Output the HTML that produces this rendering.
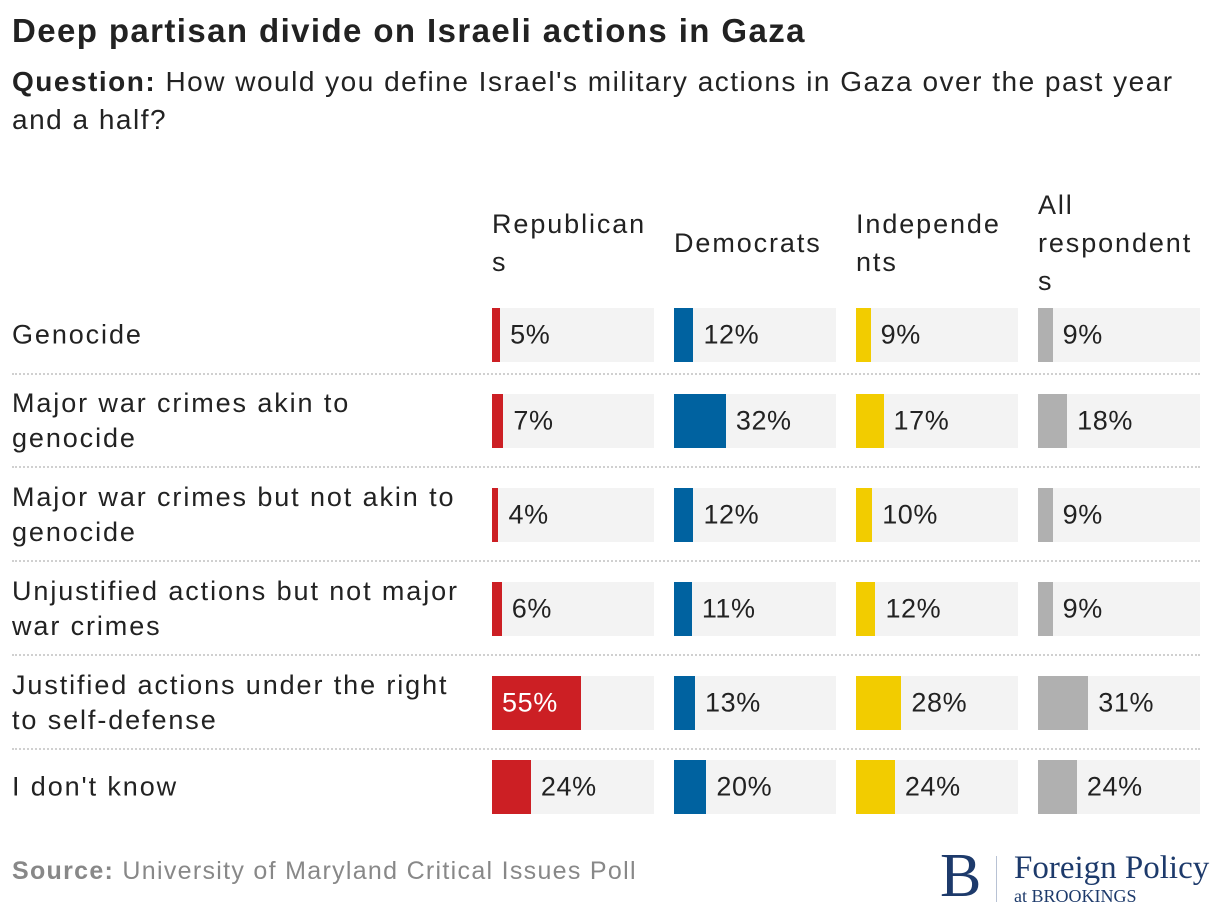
<!DOCTYPE html>
<html><head><meta charset="utf-8">
<style>
body{margin:0;background:#fff;font-family:"Liberation Sans",sans-serif;color:#222;}
#root{position:relative;width:1220px;height:916px;overflow:hidden;}
.abs{position:absolute;}
.t{font-size:27px;line-height:35px;color:#222;letter-spacing:1.9px;white-space:nowrap;}
.v{font-size:27px;line-height:35px;color:#222;letter-spacing:0.6px;white-space:nowrap;}
</style></head>
<body>
<div id="root">
<div class="abs" style="left:12px;top:12px;font-size:33px;letter-spacing:1.4px;font-weight:bold;color:#222;white-space:nowrap">Deep partisan divide on Israeli actions in Gaza</div>
<div class="abs" style="left:12px;top:63px;width:1205px;font-size:28px;letter-spacing:1.5px;line-height:38px;color:#222"><b>Question:</b> How would you define Israel's military actions in Gaza over the past year<br>and a half?</div>
<div class="abs" style="left:12px;top:857px;font-size:25px;letter-spacing:1.3px;color:#888;white-space:nowrap"><b>Source:</b> University of Maryland Critical Issues Poll</div>
<div class="abs" style="left:940px;top:850px;width:275px;height:56px;font-family:'Liberation Serif',serif;color:#1d3a6b">
<div class="abs" style="left:0;top:-6px;font-size:62px;line-height:64px">B</div>
<div class="abs" style="left:56px;top:6px;width:1px;height:46px;background:#b8c2d4"></div>
<div class="abs" style="left:74px;top:0;font-size:33px;line-height:36px;white-space:nowrap">Foreign Policy</div>
<div class="abs" style="left:74px;top:36px;font-size:18px;line-height:20px;white-space:nowrap">at BROOKINGS</div>
</div>
</div>
<script>
const categories=[["Genocide"],["Major war crimes akin to","genocide"],["Major war crimes but not akin to","genocide"],["Unjustified actions but not major","war crimes"],["Justified actions under the right","to self-defense"],["I don't know"]];
const groups=["Republicans","Democrats","Independents","All respondents"];
const groupLabels=[["Republican","s"],["Democrats"],["Independe","nts"],["All","respondent","s"]];
const rep=[5,7,4,6,55,24];
const dem=[12,32,12,11,13,20];
const ind=[9,17,10,12,28,24];
const all=[9,18,9,9,31,24];
const series=[rep,dem,ind,all];
const colors=["#cc1f24","#0062a0","#f2cc00","#b0b0b0"];
const root=document.getElementById('root');
const colX=[492,674,856,1038], colW=162;
const rowTop=[308,394,488,582,676,760], rowH=54;
const sepY=[373,466,560,654,748];
function xs(v){return v/100*colW;}
function mk(cls,css){const d=document.createElement('div');d.className='abs '+(cls||'');d.style.cssText=css;root.appendChild(d);return d;}
groups.forEach((g,i)=>{
  const lines=groupLabels[i];
  const d=mk('t',`left:${colX[i]}px;top:${243-lines.length*19}px;line-height:38px;`);
  d.innerHTML=lines.join('<br>');
  
  
});
sepY.forEach((y,i)=>{
  const d=mk('',`left:12px;top:${y}px;width:1188px;height:0;border-top:2px dotted #d0d0d0;`);
  
  
});
categories.forEach((c,r)=>{
  const lab=mk('t',`left:12px;top:${rowTop[r]+rowH/2}px;transform:translateY(-50%);`);
  lab.innerHTML=c.join('<br>');
  
  
  series.forEach((s,i)=>{
    const v=s[r];
    const bg=mk('',`left:${colX[i]}px;top:${rowTop[r]}px;width:${colW}px;height:${rowH}px;background:#f3f3f3;`);
    
    
    const w=xs(v);
    const b=mk('',`left:${colX[i]}px;top:${rowTop[r]}px;width:${w}px;height:${rowH}px;background:${colors[i]};`);
    
    
    const inside=w>80;
    const tx=inside?colX[i]+10:colX[i]+w+10;
    const t=mk('v',`left:${tx}px;top:${rowTop[r]+rowH/2}px;transform:translateY(-50%);color:${inside?'#fff':'#222'};`);
    t.textContent=v+'%';
    
    
  });
});
</script>
</body></html>
